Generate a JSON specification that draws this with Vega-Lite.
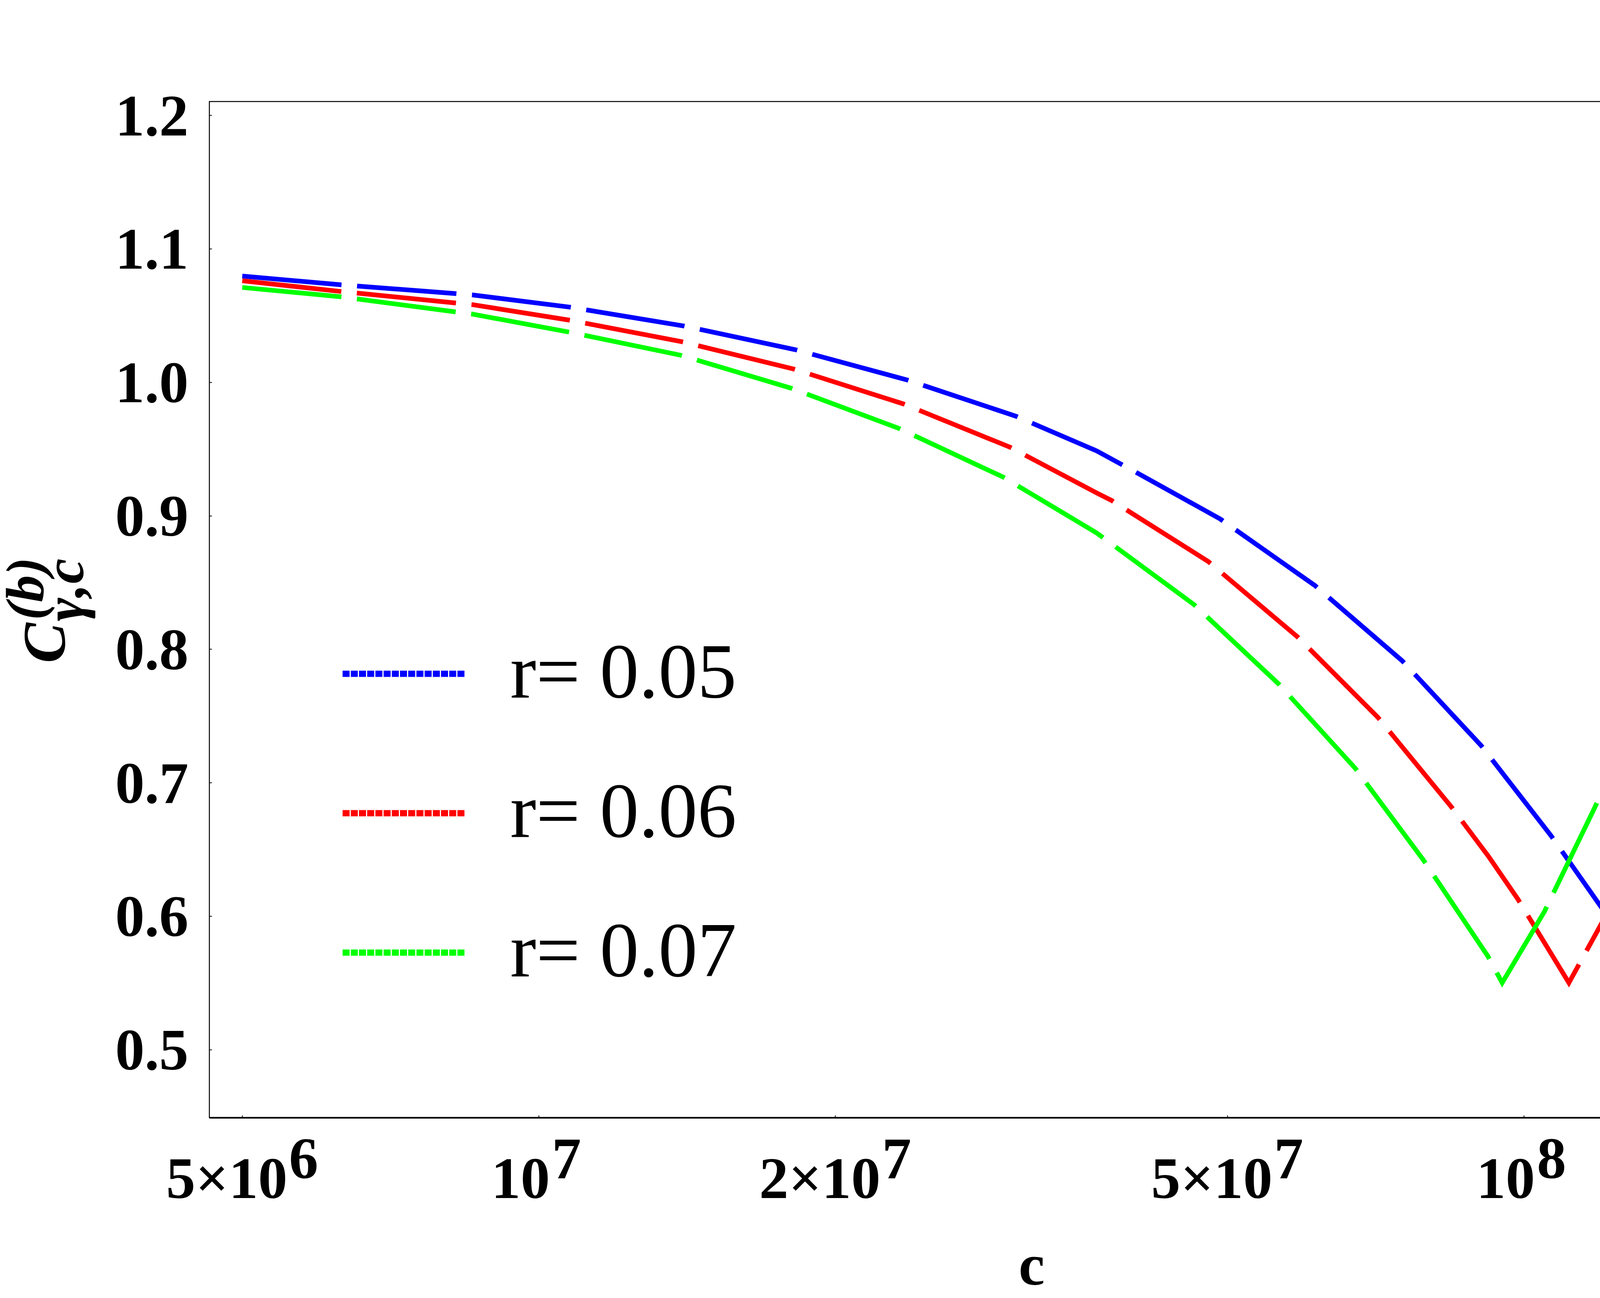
{
  "$schema": "https://vega.github.io/schema/vega-lite/v6.json",
  "width": 5000,
  "height": 3324,
  "autosize": {"type": "fit", "contains": "padding"},
  "padding": {"left": 0, "top": 235, "right": 161, "bottom": 5},
  "background": "white",
  "config": {
    "view": {"stroke": "black", "strokeWidth": 2.5},
    "font": "Liberation Serif"
  },
  "data": {
    "values": [
      {"c": 5e6, "v": 1.0795, "r": "r= 0.05"},
      {"c": 6.294e6, "v": 1.073, "r": "r= 0.05"},
      {"c": 8.563e6, "v": 1.0654, "r": "r= 0.05"},
      {"c": 1.074e7, "v": 1.0563, "r": "r= 0.05"},
      {"c": 1.402e7, "v": 1.0422, "r": "r= 0.05"},
      {"c": 1.823e7, "v": 1.0243, "r": "r= 0.05"},
      {"c": 2.367e7, "v": 1.0016, "r": "r= 0.05"},
      {"c": 3.048e7, "v": 0.9746, "r": "r= 0.05"},
      {"c": 3.685e7, "v": 0.9485, "r": "r= 0.05"},
      {"c": 4.023e7, "v": 0.9332, "r": "r= 0.05"},
      {"c": 4.916e7, "v": 0.8976, "r": "r= 0.05"},
      {"c": 6.135e7, "v": 0.8477, "r": "r= 0.05"},
      {"c": 7.526e7, "v": 0.7912, "r": "r= 0.05"},
      {"c": 9.049e7, "v": 0.7278, "r": "r= 0.05"},
      {"c": 1.0661e8, "v": 0.66, "r": "r= 0.05"},
      {"c": 1.213e8, "v": 0.6011, "r": "r= 0.05"},
      {"c": 1.2345e8, "v": 0.5908, "r": "r= 0.05"},
      {"c": 1.3335e8, "v": 0.55, "r": "r= 0.05"},
      {"c": 1.438e8, "v": 0.597, "r": "r= 0.05"},
      {"c": 1.606e8, "v": 0.6628, "r": "r= 0.05"},
      {"c": 1.816e8, "v": 0.7475, "r": "r= 0.05"},
      {"c": 2e8, "v": 0.8195, "r": "r= 0.05"},
      {"c": 5e6, "v": 1.076, "r": "r= 0.06"},
      {"c": 6.294e6, "v": 1.068, "r": "r= 0.06"},
      {"c": 8.563e6, "v": 1.0581, "r": "r= 0.06"},
      {"c": 1.072e7, "v": 1.0466, "r": "r= 0.06"},
      {"c": 1.3958e7, "v": 1.0304, "r": "r= 0.06"},
      {"c": 1.8142e7, "v": 1.0099, "r": "r= 0.06"},
      {"c": 2.3456e7, "v": 0.9837, "r": "r= 0.06"},
      {"c": 3.0069e7, "v": 0.9514, "r": "r= 0.06"},
      {"c": 3.685e7, "v": 0.917, "r": "r= 0.06"},
      {"c": 3.815e7, "v": 0.9114, "r": "r= 0.06"},
      {"c": 4.783e7, "v": 0.8656, "r": "r= 0.06"},
      {"c": 5.891e7, "v": 0.8092, "r": "r= 0.06"},
      {"c": 7.109e7, "v": 0.7489, "r": "r= 0.06"},
      {"c": 8.439e7, "v": 0.6819, "r": "r= 0.06"},
      {"c": 9.215e7, "v": 0.6443, "r": "r= 0.06"},
      {"c": 9.863e7, "v": 0.6126, "r": "r= 0.06"},
      {"c": 1.111e8, "v": 0.55, "r": "r= 0.06"},
      {"c": 1.297e8, "v": 0.6402, "r": "r= 0.06"},
      {"c": 1.4536e8, "v": 0.7187, "r": "r= 0.06"},
      {"c": 1.6106e8, "v": 0.7989, "r": "r= 0.06"},
      {"c": 1.773e8, "v": 0.8785, "r": "r= 0.06"},
      {"c": 1.936e8, "v": 0.9617, "r": "r= 0.06"},
      {"c": 2e8, "v": 0.992, "r": "r= 0.06"},
      {"c": 5e6, "v": 1.071, "r": "r= 0.07"},
      {"c": 6.294e6, "v": 1.064, "r": "r= 0.07"},
      {"c": 8.563e6, "v": 1.051, "r": "r= 0.07"},
      {"c": 1.0691e7, "v": 1.0378, "r": "r= 0.07"},
      {"c": 1.3935e7, "v": 1.0202, "r": "r= 0.07"},
      {"c": 1.8042e7, "v": 0.9955, "r": "r= 0.07"},
      {"c": 2.3241e7, "v": 0.9652, "r": "r= 0.07"},
      {"c": 2.963e7, "v": 0.9288, "r": "r= 0.07"},
      {"c": 3.685e7, "v": 0.887, "r": "r= 0.07"},
      {"c": 4.627e7, "v": 0.8333, "r": "r= 0.07"},
      {"c": 5.632e7, "v": 0.7742, "r": "r= 0.07"},
      {"c": 6.743e7, "v": 0.7107, "r": "r= 0.07"},
      {"c": 7.907e7, "v": 0.642, "r": "r= 0.07"},
      {"c": 9.197e7, "v": 0.5697, "r": "r= 0.07"},
      {"c": 9.506e7, "v": 0.55, "r": "r= 0.07"},
      {"c": 1.0495e8, "v": 0.6035, "r": "r= 0.07"},
      {"c": 1.18e8, "v": 0.6812, "r": "r= 0.07"},
      {"c": 1.324e8, "v": 0.7607, "r": "r= 0.07"},
      {"c": 1.463e8, "v": 0.8465, "r": "r= 0.07"},
      {"c": 1.602e8, "v": 0.9267, "r": "r= 0.07"},
      {"c": 1.738e8, "v": 1.0093, "r": "r= 0.07"},
      {"c": 1.88e8, "v": 1.0916, "r": "r= 0.07"},
      {"c": 2e8, "v": 1.1565, "r": "r= 0.07"}
    ]
  },
  "layer": [
    {
      "mark": {"type": "line", "strokeWidth": 12, "strokeDash": [255, 40], "strokeCap": "butt"},
      "encoding": {
        "x": {
          "field": "c",
          "type": "quantitative",
          "scale": {"type": "log", "domain": [4.63e6, 2.161e8], "nice": false},
          "axis": {
            "orient": "bottom",
            "values": [5e6, 1e7, 2e7, 5e7, 1e8, 2e8],
            "labelExpr": "datum.value == 1e7 || datum.value == 1e8 ? '10' : (datum.value == 2e7 || datum.value == 2e8 ? '2×10' : '5×10')",
            "labelAlign": "right",
            "labelOffset": {"condition": {"test": "datum.value == 1e7 || datum.value == 1e8", "value": 28}, "value": 115},
            "labelBaseline": "alphabetic",
            "labelPadding": 205,
            "labelFont": "Liberation Serif",
            "labelFontWeight": "bold",
            "labelFontSize": 150,
            "labelColor": "black",
            "labelFlush": false,
            "labelOverlap": false,
            "labelLimit": 1000,
            "ticks": false,
            "domain": true,
            "domainColor": "black",
            "domainWidth": 4,
            "grid": false,
            "title": "c",
            "titleFont": "Liberation Serif",
            "titleFontWeight": "bold",
            "titleFontSize": 150,
            "titleColor": "black",
            "titleBaseline": "alphabetic",
            "titleY": 427
          }
        },
        "y": {
          "field": "v",
          "type": "quantitative",
          "scale": {"domain": [0.449, 1.2103], "nice": false, "zero": false},
          "axis": {
            "orient": "left",
            "values": [0.5, 0.6, 0.7, 0.8, 0.9, 1.0, 1.1, 1.2],
            "format": ".1f",
            "labelFont": "Liberation Serif",
            "labelFontWeight": "bold",
            "labelFontSize": 150,
            "labelColor": "black",
            "labelPadding": 54,
            "labelBaseline": "alphabetic",
            "labelOffset": 51,
            "labelOverlap": false,
            "labelFlush": false,
            "labelLimit": 1000,
            "ticks": false,
            "domain": false,
            "grid": false,
            "title": "C",
            "titleFont": "Liberation Serif",
            "titleFontStyle": "italic",
            "titleFontWeight": "bold",
            "titleFontSize": 155,
            "titleColor": "black",
            "titleAngle": 270,
            "titleAlign": "center",
            "titleBaseline": "alphabetic",
            "titleX": -372,
            "titleY": 1386
          }
        },
        "color": {
          "field": "r",
          "type": "nominal",
          "scale": {"domain": ["r= 0.05", "r= 0.06", "r= 0.07"], "range": ["#0000ff", "#ff0000", "#00ff00"]},
          "legend": {
            "orient": "none",
            "legendX": 333,
            "legendY": 1300,
            "title": null,
            "padding": 0,
            "symbolType": "stroke",
            "symbolSize": 99225,
            "symbolStrokeWidth": 16,
            "symbolDash": [18, 3],
            "labelFont": "Liberation Serif",
            "labelFontSize": 200,
            "labelColor": "black",
            "labelLimit": 2000,
            "labelOffset": 106,
            "rowPadding": 91
          }
        }
      }
    },
    {
      "mark": {"type": "point", "opacity": 0, "size": 1},
      "encoding": {
        "x": {
          "field": "c",
          "type": "quantitative",
          "scale": {"type": "log", "domain": [4.63e6, 2.161e8], "nice": false},
          "axis": {
            "orient": "bottom",
            "values": [5e6, 1e7, 2e7, 5e7, 1e8, 2e8],
            "labelExpr": "datum.value < 1e7 ? '6' : (datum.value < 1e8 ? '7' : '8')",
            "labelAlign": "left",
            "labelOffset": {"condition": {"test": "datum.value == 1e7 || datum.value == 1e8", "value": 33}, "value": 119},
            "labelBaseline": "alphabetic",
            "labelPadding": 154,
            "labelFont": "Liberation Serif",
            "labelFontWeight": "bold",
            "labelFontSize": 150,
            "labelColor": "black",
            "labelFlush": false,
            "labelOverlap": false,
            "ticks": false,
            "domain": false,
            "grid": false,
            "title": null
          }
        },
        "y": {
          "field": "v",
          "type": "quantitative",
          "scale": {"domain": [0.449, 1.2103], "nice": false, "zero": false},
          "axis": {
            "orient": "left",
            "labels": false,
            "ticks": false,
            "domain": false,
            "grid": false,
            "title": "(b)",
            "titleFont": "Liberation Serif",
            "titleFontStyle": "italic",
            "titleFontWeight": "bold",
            "titleFontSize": 138,
            "titleColor": "black",
            "titleAngle": 270,
            "titleAlign": "center",
            "titleBaseline": "alphabetic",
            "titleX": -426,
            "titleY": 1247
          }
        }
      }
    },
    {
      "mark": {"type": "point", "opacity": 0, "size": 1},
      "encoding": {
        "x": {
          "field": "c",
          "type": "quantitative",
          "scale": {"type": "log", "domain": [4.63e6, 2.161e8], "nice": false},
          "axis": {
            "orient": "bottom",
            "values": [5e6, 1e7, 2e7, 5e7, 1e8, 2e8],
            "labels": false,
            "ticks": true,
            "tickSize": -6,
            "tickWidth": 2,
            "tickColor": "black",
            "domain": false,
            "grid": false,
            "title": null
          }
        },
        "y": {
          "field": "v",
          "type": "quantitative",
          "scale": {"domain": [0.449, 1.2103], "nice": false, "zero": false},
          "axis": {
            "orient": "left",
            "values": [0.5, 0.6, 0.7, 0.8, 0.9, 1.0, 1.1, 1.2],
            "labels": false,
            "ticks": true,
            "tickSize": -6,
            "tickWidth": 2,
            "tickColor": "black",
            "domain": false,
            "grid": false,
            "title": "γ,c",
            "titleFont": "Liberation Serif",
            "titleFontStyle": "italic",
            "titleFontWeight": "bold",
            "titleFontSize": 145,
            "titleColor": "black",
            "titleAngle": 270,
            "titleAlign": "center",
            "titleBaseline": "alphabetic",
            "titleX": -324,
            "titleY": 1250
          }
        }
      }
    }
  ],
  "resolve": {
    "axis": {"x": "independent", "y": "independent"},
    "scale": {"x": "shared", "y": "shared"}
  }
}
